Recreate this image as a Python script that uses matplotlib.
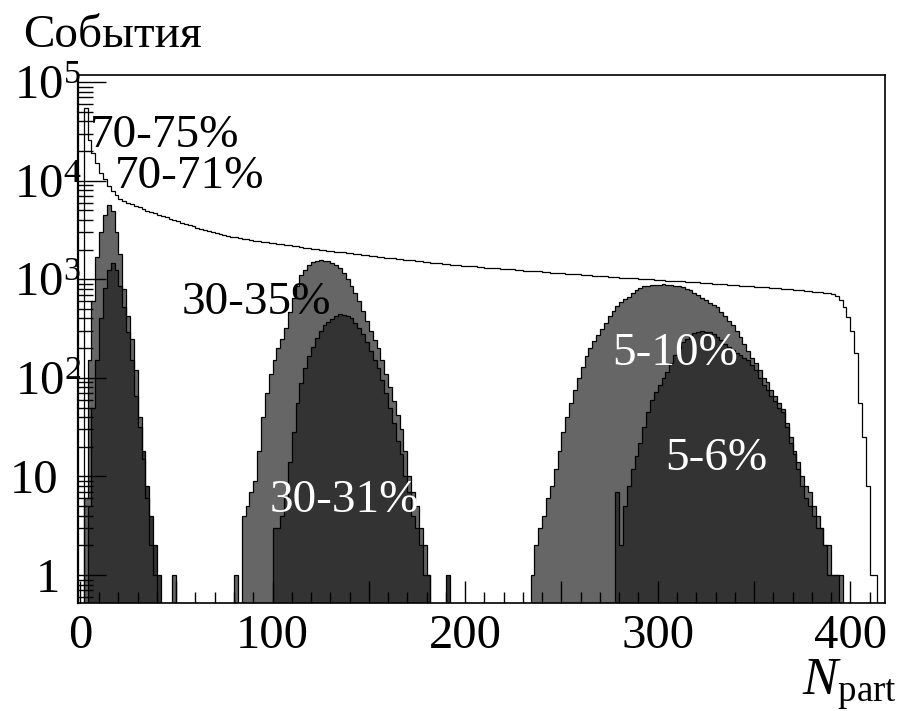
import numpy as np
import matplotlib
matplotlib.use("Agg")
import matplotlib.pyplot as plt
import matplotlib.transforms as mtransforms
from matplotlib.ticker import MultipleLocator, FuncFormatter, LogLocator, NullFormatter

plt.rcParams['font.family'] = ['Liberation Serif', 'DejaVu Serif']
plt.rcParams['mathtext.fontset'] = 'custom'
plt.rcParams['mathtext.rm'] = 'Liberation Serif'
plt.rcParams['mathtext.it'] = 'Liberation Serif:italic'
plt.rcParams['mathtext.bf'] = 'Liberation Serif:bold'

# ---------------- data (bin width 2 in N_part) ----------------
BIN_WIDTH = 2

total_start = 0
total_counts = [
    0, 55000, 26000, 19000, 15200, 12100, 10300, 8900, 7900, 7100,
    6500, 6250, 5900, 5750, 5480, 5350, 5120, 4980, 4800, 4720,
    4530, 4420, 4240, 4130, 3980, 3870, 3760, 3640, 3570, 3440,
    3330, 3240, 3170, 3070, 3010, 2940, 2890, 2810, 2760, 2700,
    2660, 2620, 2580, 2550, 2510, 2470, 2450, 2410, 2400, 2350,
    2330, 2290, 2280, 2230, 2220, 2160, 2150, 2120, 2090, 2060,
    2050, 2010, 2000, 1960, 1950, 1920, 1900, 1880, 1870, 1830,
    1830, 1800, 1790, 1760, 1750, 1730, 1710, 1690, 1690, 1660,
    1650, 1630, 1610, 1600, 1580, 1560, 1550, 1530, 1520, 1500,
    1500, 1470, 1470, 1450, 1440, 1430, 1410, 1400, 1390, 1370,
    1370, 1350, 1350, 1330, 1330, 1310, 1300, 1290, 1300, 1280,
    1270, 1260, 1260, 1240, 1240, 1220, 1220, 1210, 1200, 1200,
    1190, 1180, 1170, 1170, 1150, 1150, 1140, 1140, 1120, 1120,
    1110, 1100, 1100, 1090, 1080, 1080, 1070, 1060, 1060, 1050,
    1040, 1040, 1030, 1030, 1020, 1010, 1010, 1000, 995, 990,
    985, 980, 970, 970, 960, 955, 950, 945, 940, 935,
    930, 925, 915, 910, 905, 900, 890, 885, 880, 870,
    865, 860, 855, 850, 845, 840, 835, 830, 830, 820,
    815, 810, 800, 795, 790, 780, 775, 770, 760, 755,
    745, 740, 735, 730, 725, 715, 680, 610, 520, 415,
    300, 178, 55, 25, 8, 1, 1, 0, 0, 0,
]

c70_75_start = 2
c70_75_counts = [
    6, 150, 600, 1700, 3000, 4500, 5600, 4900, 3000, 1800,
    800, 420, 250, 120, 40, 15, 6, 2, 1, 0,
    0, 0, 0, 1, 0, 0, 0, 0, 0, 0,
    0, 0, 0, 0, 0, 0, 0, 0, 0, 1,
]
c70_71_start = 4
c70_71_counts = [
    5, 50, 150, 400, 820, 1250, 1450, 1250, 850, 520,
    290, 150, 65, 32, 18, 8, 4, 2, 1,
]

c30_35_start = 84
c30_35_counts = [
    4, 5, 7, 9, 18, 40, 70, 110, 150, 200,
    250, 320, 470, 640, 850, 1100, 1250, 1400, 1480, 1530,
    1560, 1520, 1540, 1470, 1400, 1300, 1150, 1000, 860, 720,
    600, 480, 380, 300, 240, 200, 150, 110, 80, 58,
    42, 30, 18, 10, 7, 5, 3, 2, 1,
]
c30_31_start = 100
c30_31_counts = [
    3, 3, 4, 6, 14, 28, 55, 88, 125, 165,
    205, 255, 300, 340, 365, 395, 420, 440, 430, 420,
    400, 360, 320, 280, 230, 185, 150, 125, 95, 70,
    50, 35, 23, 17, 10, 7, 4, 3, 2, 1,
    1, 0, 0, 0, 0, 1,
]

c5_10_start = 234
c5_10_counts = [
    1, 2, 3, 4, 6, 8, 12, 18, 28, 40,
    55, 75, 100, 130, 165, 200, 235, 270, 310, 360,
    420, 480, 540, 590, 630, 660, 720, 770, 820, 850,
    860, 870, 880, 870, 885, 880, 870, 860, 850, 830,
    800, 770, 730, 690, 640, 610, 580, 550, 520, 470,
    420, 380, 340, 300, 260, 220, 185, 160, 140, 120,
    100, 90, 75, 65, 55, 48, 35, 25, 18, 14,
    10, 8, 7, 5, 4, 3, 2, 2, 1, 1, 1,
]
c5_6_start = 278
c5_6_counts = [
    7, 2, 5, 8, 12, 16, 22, 32, 45, 60,
    72, 85, 100, 115, 140, 170, 200, 230, 250, 270,
    285, 295, 300, 295, 290, 280, 260, 240, 220, 205,
    190, 180, 170, 160, 150, 135, 120, 100, 85, 75,
    65, 58, 50, 45, 32, 22, 17, 12, 8, 6,
    5, 4, 3, 3, 2, 1, 1, 1,
]

x_tick_labels = ['0', '100', '200', '300', '400']
y_tick_values = [1, 10, 100, 1000, 10000, 100000]
y_tick_labels = ['1', '10', r'$10^{2}$', r'$10^{3}$', r'$10^{4}$', r'$10^{5}$']
y_title = 'События'
x_title = r'$N_{\mathrm{part}}$'

GRAY = '#666666'
DARK = '#333333'

# ---------------- figure ----------------
W, H = 923, 711
fig = plt.figure(figsize=(W / 100, H / 100), dpi=100)
ax = fig.add_axes([78 / W, (H - 603) / H, (885 - 78) / W, (603 - 75) / H])
ax.set_yscale('log')
ax.set_xlim(-1, 418)
ax.set_ylim(0.52, 1.18e5)

BASE = 1e-3


def edges(start, counts):
    return start + BIN_WIDTH * np.arange(len(counts) + 1)


def safe(counts):
    c = np.asarray(counts, dtype=float)
    return np.where(c > 0, c, BASE)


# total (outline only)
ax.stairs(safe(total_counts), edges(total_start, total_counts), baseline=BASE,
          fill=False, color='black', lw=0.9, zorder=2)

for (cs, s, col) in [
    (c70_75_counts, c70_75_start, GRAY), (c70_71_counts, c70_71_start, DARK),
    (c30_35_counts, c30_35_start, GRAY), (c30_31_counts, c30_31_start, DARK),
    (c5_10_counts, c5_10_start, GRAY), (c5_6_counts, c5_6_start, DARK),
]:
    e = edges(s, cs)
    ax.stairs(safe(cs), e, baseline=BASE, fill=True, color=col, lw=0, zorder=1)
    ax.stairs(safe(cs), e, baseline=BASE, fill=False, color='black', lw=0.9, zorder=1.1)

# ---------------- axes styling ----------------
for sp in ax.spines.values():
    sp.set_linewidth(1.2)
ax.spines['left'].set_linewidth(1.6)

label_map = {int(t): t for t in x_tick_labels}


def xfmt(v, p):
    iv = int(round(v))
    return label_map.get(iv, '') if abs(v - iv) < 1e-6 else ''


ax.xaxis.set_major_locator(MultipleLocator(50))
ax.xaxis.set_major_formatter(FuncFormatter(xfmt))
ax.xaxis.set_minor_locator(MultipleLocator(10))

ax.yaxis.set_major_locator(LogLocator(base=10, numticks=10))
ax.yaxis.set_minor_locator(LogLocator(base=10, subs=np.arange(2, 10), numticks=20))
ax.yaxis.set_minor_formatter(NullFormatter())

ax.tick_params(axis='both', which='both', direction='in', top=False, right=False)
ax.tick_params(axis='x', which='major', length=16, width=1, labelsize=35, pad=8)
ax.tick_params(axis='x', which='minor', length=8, width=1)
ax.tick_params(axis='y', which='major', length=20, width=1, labelleft=False)
ax.tick_params(axis='y', which='minor', length=11, width=1)

# y tick labels placed ROOT-like: the "10" body ends just left of the axis,
# the exponent overhangs slightly.
ytrans = mtransforms.blended_transform_factory(ax.transAxes, ax.transData)
for v, lab in zip(y_tick_values, y_tick_labels):
    dx = 3 if lab.startswith('$') else (-20 if lab == '10' else -18)
    off = mtransforms.ScaledTranslation(dx / 100, -17 / 100, fig.dpi_scale_trans)
    ax.text(0, v, lab, transform=ytrans + off, ha='right', va='baseline',
            fontsize=35, clip_on=False)

# ---------------- texts ----------------
def ftext(x, y, s, **kw):
    fig.text(x / W, 1 - y / H, s, va='baseline', **kw)


ftext(23, 47, y_title, fontsize=34, ha='left')
ftext(897, 695, x_title, fontsize=38, ha='right')

ftext(90, 147, '70-75%', fontsize=34, ha='left', color='black')
ftext(115, 188, '70-71%', fontsize=34, ha='left', color='black')
ftext(182, 314, '30-35%', fontsize=34, ha='left', color='black')
ftext(270, 512, '30-31%', fontsize=34, ha='left', color='white')
ftext(612, 365, '5-10%', fontsize=34, ha='left', color='white')
ftext(665, 470, '5-6%', fontsize=34, ha='left', color='white')

fig.savefig('out.png', dpi=100)
